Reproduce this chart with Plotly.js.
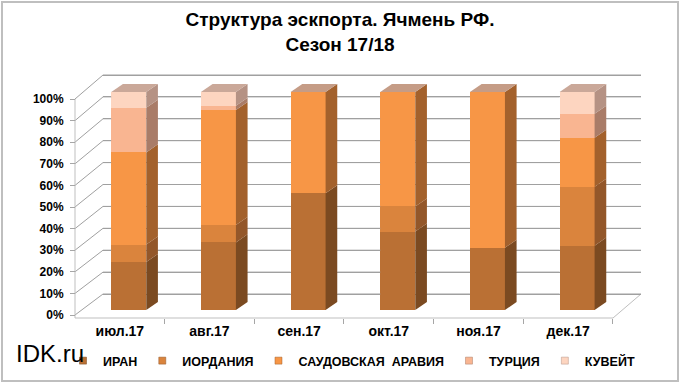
<!DOCTYPE html>
<html>
<head>
<meta charset="utf-8">
<script src="https://cdn.plot.ly/plotly-3.0.1.min.js"></script>
<style>html,body{margin:0;padding:0;background:#fff;}#chart{width:680px;height:384px;}</style>
</head>
<body>
<div id="chart"></div>
<script>
// ---- data ----
const categories = ['июл.17', 'авг.17', 'сен.17', 'окт.17', 'ноя.17', 'дек.17'];
const seriesNames = ['ИРАН', 'ИОРДАНИЯ', 'САУДОВСКАЯ\u00a0 АРАВИЯ', 'ТУРЦИЯ', 'КУВЕЙТ'];
const iran   = [22.0, 31.0, 53.5, 36.0, 28.5, 29.5];
const jordan = [8.0, 8.0, 0.0, 11.5, 0.0, 27.0];
const saudi  = [42.3, 52.7, 46.5, 52.5, 71.5, 22.5];
const turkey = [20.5, 2.0, 0.0, 0.0, 0.0, 11.0];
const kuwait = [7.2, 6.3, 0.0, 0.0, 0.0, 10.0];
const yTicks = [0, 10, 20, 30, 40, 50, 60, 70, 80, 90, 100];
const yTickText = yTicks.map(v => v + '%');

// ---- styles ----
const FONT = 'Liberation Sans, Arial, sans-serif';
const frontColors = ['#BA7034', '#DA843D', '#F79646', '#F9B591', '#FDD5C0'];
const sideColors  = ['#7B4A21', '#93572A', '#A3612C', '#A97C68', '#B59284'];
const topColors   = ['#B58A6E', '#BE9378', '#C59C86', '#C8A291', '#CAA899'];
const series = [iran, jordan, saudi, turkey, kuwait];

const W = 680, H = 384;
const fx = p => p / W;
const fy = p => 1 - p / H;

// pixel geometry of the pseudo-3D frame
const PLOT_L = 103, PLOT_R = 641, PLOT_B = 318, PLOT_T = 70;
const CAT_W = 89.67, CAT0 = 119.8;
const X_RANGE = [(PLOT_L - CAT0) / CAT_W, (PLOT_R - CAT0) / CAT_W];
const BAR_PX = 2.18, BAR_ZERO = 310;
const LAB_PX = 2.16, LAB_ZERO = 315;
const WALL_PX = 2.19, WALL_ZERO = 294;
const rangeFor = (zero, k) => [-(PLOT_B - zero) / k, (zero - PLOT_T) / k];

const BAR_W = 0.39;
const BAR_OFF = -0.095;
const DX = 0.13;
const DY = 3.7;

const traces = [];
// front faces (stacked bars)
series.forEach((vals, s) => {
  traces.push({
    type: 'bar', x: categories, y: vals, name: seriesNames[s],
    xaxis: 'x', yaxis: 'y', width: BAR_W, offset: BAR_OFF,
    marker: {color: frontColors[s], line: {width: 0}},
    showlegend: false, hoverinfo: 'x+y+name'
  });
});
// helper traces so the overlaid label / wall axes are drawn
traces.push({type: 'scatter', mode: 'markers', x: categories, y: categories.map(() => null),
  xaxis: 'x', yaxis: 'y2', showlegend: false, hoverinfo: 'skip'});
traces.push({type: 'scatter', mode: 'markers', x: categories, y: categories.map(() => null),
  xaxis: 'x', yaxis: 'y3', showlegend: false, hoverinfo: 'skip'});

// back-wall gridlines, visible only between the bars
const wallInBarUnits = v => (BAR_ZERO - (WALL_ZERO - WALL_PX * v)) / BAR_PX;
const gx = [], gy = [];
yTicks.forEach(v => {
  const u = wallInBarUnits(v);
  if (v === 100) {
    gx.push(X_RANGE[0], X_RANGE[1], null); gy.push(u, u, null);
    return;
  }
  let start = X_RANGE[0];
  categories.forEach((c, i) => {
    gx.push(start, i + BAR_OFF, null); gy.push(u, u, null);
    start = i + BAR_OFF + BAR_W + DX;
  });
  gx.push(start, X_RANGE[1], null); gy.push(u, u, null);
});
traces.push({type: 'scatter', mode: 'lines', x: gx, y: gy, xaxis: 'x2', yaxis: 'y',
  line: {color: '#A0A0A0', width: 1}, connectgaps: false, showlegend: false, hoverinfo: 'skip'});

// side faces
const bases = categories.map(() => 0);
const tops = categories.map(() => 0);
const topSeries = categories.map(() => 0);
series.forEach((vals, s) => {
  const xs = [], ys = [];
  vals.forEach((v, i) => {
    const b = bases[i], t = b + v;
    if (v > 0) {
      const xr = i + BAR_OFF + BAR_W;
      xs.push(xr, xr + DX, xr + DX, xr, xr, null);
      ys.push(b, b + DY, t + DY, t, b, null);
      tops[i] = t; topSeries[i] = s;
    }
    bases[i] = t;
  });
  traces.push({
    type: 'scatter', mode: 'lines', x: xs, y: ys, fill: 'toself',
    fillcolor: sideColors[s], line: {width: 0, color: sideColors[s]},
    xaxis: 'x2', yaxis: 'y', showlegend: false, hoverinfo: 'skip'
  });
});
// top faces
categories.forEach((c, i) => {
  const xl = i + BAR_OFF, xr = xl + BAR_W, T = tops[i];
  traces.push({
    type: 'scatter', mode: 'lines',
    x: [xl, xr, xr + DX, xl + DX, xl], y: [T, T, T + DY, T + DY, T],
    fill: 'toself', fillcolor: topColors[topSeries[i]],
    line: {width: 0, color: topColors[topSeries[i]]},
    xaxis: 'x2', yaxis: 'y', showlegend: false, hoverinfo: 'skip'
  });
});
// legend entries
seriesNames.forEach((n, s) => {
  traces.push({
    type: 'scatter', mode: 'markers', x: [null], y: [null], name: n,
    xaxis: 'x2', yaxis: 'y',
    marker: {symbol: 'square', size: 7, color: frontColors[s], line: {width: 0.5, color: sideColors[s]}},
    showlegend: true
  });
});

// frame decorations
const GRID = '#A0A0A0';
const frontPx = v => LAB_ZERO - LAB_PX * v;
const backPx = v => WALL_ZERO - WALL_PX * v;
const shapes = yTicks.map(v => ({
  type: 'line', xref: 'paper', yref: 'paper',
  x0: fx(75), y0: fy(frontPx(v)), x1: fx(PLOT_L), y1: fy(backPx(v)),
  line: {color: GRID, width: 1}, layer: 'below'
}));
shapes.push({type: 'line', xref: 'paper', yref: 'paper',
  x0: fx(75), y0: fy(PLOT_B), x1: fx(613), y1: fy(PLOT_B),
  line: {color: '#BFBFBF', width: 1}, layer: 'below'});
shapes.push({type: 'line', xref: 'paper', yref: 'paper',
  x0: fx(613), y0: fy(PLOT_B), x1: fx(PLOT_R), y1: fy(WALL_ZERO),
  line: {color: '#BFBFBF', width: 1}, layer: 'below'});
shapes.push({type: 'line', xref: 'paper', yref: 'paper',
  x0: fx(75), y0: fy(PLOT_B), x1: fx(75), y1: fy(frontPx(100)),
  line: {color: '#BFBFBF', width: 1}, layer: 'below'});
shapes.push({type: 'rect', xref: 'paper', yref: 'paper',
  x0: fx(2), y0: fy(381), x1: fx(678), y1: fy(2),
  line: {color: '#BFBFBF', width: 2}, fillcolor: 'rgba(0,0,0,0)', layer: 'above'});

const layout = {
  width: W, height: H,
  margin: {l: 0, r: 0, t: 0, b: 0},
  paper_bgcolor: '#FFFFFF', plot_bgcolor: '#FFFFFF',
  font: {family: FONT, color: '#000'},
  title: {
    text: 'Структура эскпорта. Ячмень РФ.<br>Сезон 17/18',
    font: {family: FONT, size: 19, color: '#000', weight: 'bold'},
    x: 0.5, xanchor: 'center', y: fy(26), yanchor: 'middle', yref: 'container'
  },
  barmode: 'stack',
  showlegend: true,
  legend: {
    orientation: 'h', x: fx(63), xanchor: 'left', y: fy(361), yanchor: 'middle',
    font: {family: FONT, size: 12.5, color: '#000', weight: 'bold'},
    bgcolor: 'rgba(0,0,0,0)', itemwidth: 30, traceorder: 'normal'
  },
  xaxis: {type: 'category', domain: [fx(PLOT_L), fx(PLOT_R)], range: X_RANGE, anchor: 'y',
    tickson: 'boundaries', ticks: 'outside', ticklen: 5, tickcolor: '#A6A6A6',
    showline: false, showgrid: false, zeroline: false, ticklabelstandoff: 3,
    tickfont: {family: FONT, size: 14, color: '#000', weight: 'bold'}, fixedrange: true},
  xaxis2: {domain: [fx(PLOT_L), fx(PLOT_R)], range: X_RANGE, overlaying: 'x', anchor: 'y',
    visible: false, fixedrange: true},
  yaxis: {domain: [fy(PLOT_B), fy(PLOT_T)], range: rangeFor(BAR_ZERO, BAR_PX), anchor: 'x',
    visible: false, showgrid: false, zeroline: false, fixedrange: true},
  yaxis2: {overlaying: 'y', anchor: 'free', position: fx(75), side: 'left',
    range: rangeFor(LAB_ZERO, LAB_PX),
    tickmode: 'array', tickvals: yTicks, ticktext: yTickText, ticks: 'outside', ticklen: 5,
    tickcolor: '#A6A6A6', showline: false, showgrid: false, zeroline: false, ticklabelstandoff: 4,
    tickfont: {family: FONT, size: 12, color: '#000', weight: 'bold'}, fixedrange: true},
  yaxis3: {overlaying: 'y', anchor: 'x', side: 'left', range: rangeFor(WALL_ZERO, WALL_PX),
    tickmode: 'array', tickvals: yTicks, showticklabels: false, ticks: '',
    showgrid: true, gridcolor: GRID, gridwidth: 1, zeroline: false, showline: false,
    fixedrange: true},
  shapes: shapes,
  annotations: [{
    text: 'IDK.ru', xref: 'paper', yref: 'paper', x: fx(14), y: fy(353),
    xanchor: 'left', yanchor: 'middle', showarrow: false,
    font: {family: FONT, size: 24, color: '#000'}
  }]
};

Plotly.newPlot('chart', traces, layout, {staticPlot: true, displayModeBar: false});
</script>
</body>
</html>
